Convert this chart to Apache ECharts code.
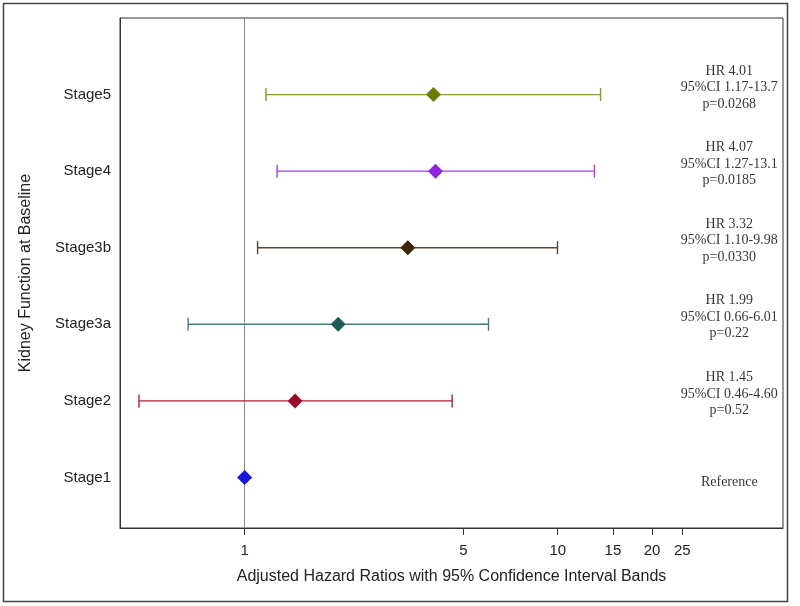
<!DOCTYPE html>
<html>
<head>
<meta charset="utf-8">
<script src="https://cdn.jsdelivr.net/npm/echarts@6/dist/echarts.min.js"></script>
<style>
html,body{margin:0;padding:0;background:#fff;}
#chart{width:800px;height:606px;}
</style>
</head>
<body>
<div id="chart"></div>
<script>
// ---- data ----
var stages = ['Stage1', 'Stage2', 'Stage3a', 'Stage3b', 'Stage4', 'Stage5'];
var hazardRatio = [1.00, 1.45, 1.99, 3.32, 4.07, 4.01];
var ciLower = [null, 0.46, 0.66, 1.10, 1.27, 1.17];
var ciUpper = [null, 4.60, 6.01, 9.98, 13.1, 13.7];
var annotations = [
  'Reference',
  'HR 1.45\n95%CI 0.46-4.60\np=0.52',
  'HR 1.99\n95%CI 0.66-6.01\np=0.22',
  'HR 3.32\n95%CI 1.10-9.98\np=0.0330',
  'HR 4.07\n95%CI 1.27-13.1\np=0.0185',
  'HR 4.01\n95%CI 1.17-13.7\np=0.0268'
];
var xTickValues = [1, 5, 10, 15, 20, 25];

// ---- styles ----
var markerColors = ['#1414e6', '#9c0a2a', '#1f5c55', '#3f2406', '#8f24e6', '#6b7b00'];
var lineColors = ['#1414e6', '#b01e38', '#3f8078', '#5a4430', '#a040f0', '#8a9a1a'];
var ANNOT_X = 35.3;

var chart = echarts.init(document.getElementById('chart'), null, {renderer: 'canvas'});

var series = [];
// error bars
stages.forEach(function (s, i) {
  if (ciLower[i] == null) return;
  series.push({
    type: 'custom',
    name: s + ' CI',
    encode: {x: [0, 2], y: 1},
    data: [[ciLower[i], i + 1, ciUpper[i]]],
    z: 2,
    renderItem: function (params, api) {
      var y = api.value(1);
      var p0 = api.coord([api.value(0), y]);
      var p1 = api.coord([api.value(2), y]);
      var cap = 6.5;
      var st = {stroke: lineColors[i], lineWidth: 1.4};
      return {
        type: 'group',
        children: [
          {type: 'line', shape: {x1: p0[0], y1: p0[1], x2: p1[0], y2: p1[1]}, style: st},
          {type: 'line', shape: {x1: p0[0], y1: p0[1] - cap, x2: p0[0], y2: p0[1] + cap}, style: st},
          {type: 'line', shape: {x1: p1[0], y1: p1[1] - cap, x2: p1[0], y2: p1[1] + cap}, style: st}
        ]
      };
    }
  });
});
// markers
series.push({
  type: 'scatter',
  name: 'HR',
  symbol: 'diamond',
  symbolSize: [15, 15],
  z: 5,
  data: stages.map(function (s, i) {
    return {value: [hazardRatio[i], i + 1], itemStyle: {color: markerColors[i], opacity: 1}};
  }),
  markLine: {
    silent: true,
    symbol: 'none',
    label: {show: false},
    lineStyle: {color: '#8a8a8a', width: 1, type: 'solid'},
    data: [{xAxis: 1}],
    z: 1
  }
});
// annotations
series.push({
  type: 'scatter',
  name: 'annot',
  symbolSize: 0,
  silent: true,
  data: stages.map(function (s, i) {
    return {
      value: [ANNOT_X, i + 1],
      label: {offset: [0, i === 0 ? 5 : -7]}
    };
  }),
  label: {
    show: true,
    position: 'inside',
    formatter: function (p) { return annotations[p.dataIndex]; },
    fontFamily: 'Liberation Serif',
    fontSize: 14,
    lineHeight: 16.5,
    color: '#000',
    align: 'center',
    verticalAlign: 'middle'
  }
});

var option = {
  animation: false,
  backgroundColor: '#fff',
  grid: {left: 120, right: 17, top: 18, bottom: 78, show: true, borderColor: '#333', borderWidth: 1, backgroundColor: 'transparent'},
  xAxis: {
    type: 'log',
    logBase: 10,
    min: 0.4,
    max: 52.4,
    name: 'Adjusted Hazard Ratios with 95% Confidence Interval Bands',
    nameLocation: 'middle',
    nameGap: 41,
    nameTextStyle: {fontFamily: 'Liberation Sans', fontSize: 16, color: '#222'},
    axisLine: {show: true, lineStyle: {color: '#333'}},
    axisTick: {show: true, length: 7, inside: false, lineStyle: {color: '#333'}, customValues: xTickValues},
    axisLabel: {show: true, margin: 15, fontFamily: 'Liberation Sans', fontSize: 15, color: '#222', customValues: xTickValues,
      formatter: function (v) { return String(Math.round(v)); }},
    minorTick: {show: false},
    splitLine: {show: false}
  },
  yAxis: {
    type: 'value',
    min: 0.34,
    max: 7,
    name: 'Kidney Function at Baseline',
    nameLocation: 'middle',
    nameGap: 86,
    nameTextStyle: {fontFamily: 'Liberation Sans', fontSize: 16, color: '#222'},
    axisLine: {show: true, lineStyle: {color: '#333'}},
    axisTick: {show: false},
    axisLabel: {show: true, margin: 9, fontFamily: 'Liberation Sans', fontSize: 15, color: '#222',
      customValues: [1, 2, 3, 4, 5, 6],
      formatter: function (v) { return stages[Math.round(v) - 1] || ''; }},
    splitLine: {show: false}
  },
  graphic: [{
    type: 'rect',
    shape: {x: 3.5, y: 3.5, width: 784, height: 598},
    style: {fill: 'none', stroke: '#444', lineWidth: 1.5},
    silent: true,
    z: -1
  }],
  series: series
};
chart.setOption(option);
</script>
</body>
</html>
